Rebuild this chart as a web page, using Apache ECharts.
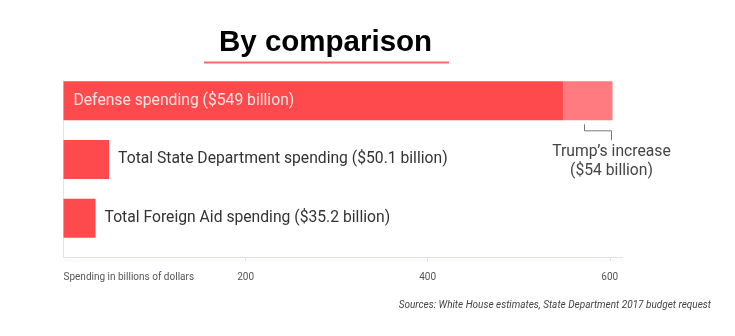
<!DOCTYPE html>
<html>
<head>
<meta charset="utf-8">
<script src="https://cdn.jsdelivr.net/npm/echarts@6/dist/echarts.min.js"></script>
<style>
  html, body { margin: 0; padding: 0; background: #ffffff; }
  #chart { width: 735px; height: 336px; }
</style>
</head>
<body>
<div id="chart"></div>
<script>
// Spending categories, top to bottom
const categories = ['Defense', 'State Department', 'Foreign Aid'];
const categoryLabels = [
  'Defense spending ($549 billion)',
  'Total State Department spending ($50.1 billion)',
  'Total Foreign Aid spending ($35.2 billion)'
];
// Current spending, billions of dollars
const baseSpending = [549, 50.1, 35.2];
// Proposed increase (defense only)
const increase = [54, null, null];
const increaseLabel = ['Trump\u2019s increase', '($54 billion)'];
// Axis tick labels
const tickValues = [0, 200, 400, 600];
const axisTitle = 'Spending in billions of dollars';
const sourceNote = 'Sources: White House estimates, State Department 2017 budget request';

const RED = '#ff4a4d';
const PINK = '#ff7b80';
const FONT = 'Roboto, "Liberation Sans", sans-serif';

const chart = echarts.init(document.getElementById('chart'), null, { renderer: 'canvas' });

const option = {
  animation: false,
  backgroundColor: '#ffffff',
  title: {
    text: 'By comparison',
    left: 219,
    top: 28,
    textStyle: { fontFamily: '"Liberation Sans", Arial, sans-serif', fontWeight: 'bold', fontSize: 29.5, color: '#000' },
    padding: 0
  },
  grid: { left: 63.5, top: 81, width: 559, height: 176, containLabel: false, outerBoundsMode: 'none' },
  xAxis: {
    type: 'value',
    min: 0,
    max: 614,
    interval: 200,
    axisLine: { show: true, lineStyle: { color: '#ffd9d9', width: 1 } },
    axisTick: { show: true, length: 4, customValues: tickValues.slice(1), lineStyle: { color: '#ffd9d9' } },
    splitLine: { show: false },
    axisLabel: {
      customValues: tickValues,
      margin: 15,
      fontFamily: FONT,
      fontSize: 10,
      color: '#555',
      alignMinLabel: 'left',
      formatter: v => v === 0 ? axisTitle : String(v)
    }
  },
  yAxis: {
    type: 'category',
    data: categories,
    inverse: true,
    axisLine: { show: true, lineStyle: { color: '#ffd9d9' } },
    axisTick: { show: false },
    axisLabel: { show: false }
  },
  series: [
    {
      name: 'Current spending',
      type: 'bar',
      stack: 'spend',
      barWidth: 39,
      barGap: '0%',
      data: baseSpending.map((v, i) => ({
        value: v,
        label: i === 0
          ? { show: true, position: 'insideLeft', distance: 10, color: '#ffe4e4', fontSize: 15.7, fontFamily: FONT, formatter: categoryLabels[i] }
          : { show: true, position: 'right', distance: 9, color: '#333', fontSize: 15.7, fontFamily: FONT, formatter: categoryLabels[i] }
      })),
      itemStyle: { color: RED }
    },
    {
      name: 'Increase',
      type: 'bar',
      stack: 'spend',
      barWidth: 39,
      data: increase,
      itemStyle: { color: PINK },
      label: {
        show: true,
        position: ['100%', '100%'],
        offset: [-1, 22],
        align: 'center',
        verticalAlign: 'top',
        fontFamily: FONT,
        fontSize: 15.7,
        lineHeight: 19,
        color: '#444',
        formatter: p => p.value == null ? '' : increaseLabel.join('\n')
      }
    },
    {
      // empty slot beneath each bar, keeps bars at the top of their bands
      name: 'gap',
      type: 'bar',
      stack: 'gap',
      barWidth: 19,
      data: [0, 0, 0],
      itemStyle: { color: 'transparent' },
      silent: true
    }
  ]
};

chart.setOption(option);

// Bracket linking the increase segment to its label
function drawBracket() {
  const start = chart.convertToPixel({ gridIndex: 0 }, [baseSpending[0] + increase[0] / 2, categories[0]]);
  const end = chart.convertToPixel({ gridIndex: 0 }, [baseSpending[0] + increase[0], categories[0]]);
  const barBottom = start[1] + 10;
  const xs = Math.round(start[0] - 4) + 0.5;
  const xe = Math.round(end[0] - 1) + 0.5;
  chart.setOption({
    graphic: [
      {
        type: 'polyline',
        shape: { points: [[xs, barBottom + 4], [xs, barBottom + 10.5], [xe, barBottom + 10.5], [xe, barBottom + 20]] },
        style: { stroke: '#777', lineWidth: 1, fill: null }
      },
      {
        type: 'line',
        shape: { x1: 204, y1: 62.5, x2: 449, y2: 62.5 },
        style: { stroke: '#ff6a6e', lineWidth: 2 }
      },
      {
        type: 'text',
        right: 24,
        top: 300,
        style: { text: sourceNote, font: 'italic 10px ' + FONT, fill: '#444' }
      }
    ]
  });
}
drawBracket();
</script>
</body>
</html>
